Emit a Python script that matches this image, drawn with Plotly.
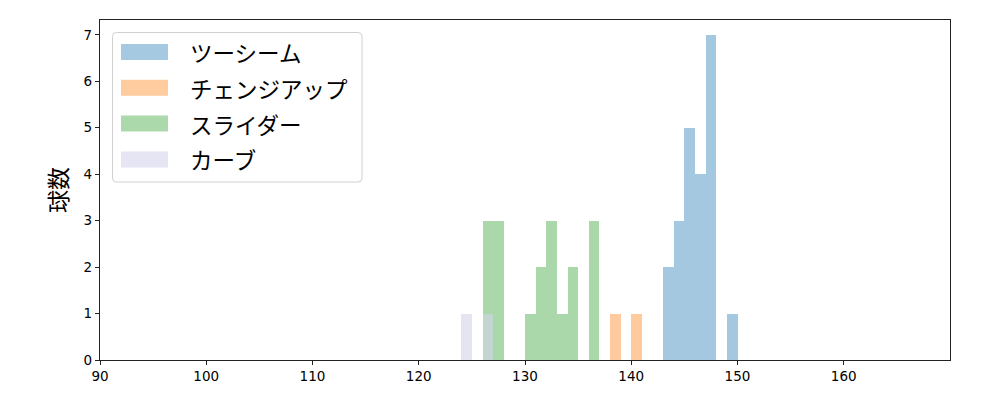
import plotly.graph_objects as go

# ヒストグラム (ビン幅1, 左端の値)
labels = ["ツーシーム", "チェンジアップ", "スライダー", "カーブ"]
colors = ["#1f77b4", "#ff7f0e", "#2ca02c", "rgb(212,212,235)"]
alphas = [0.4, 0.4, 0.4, 0.6]

twoseam_bins = [143, 144, 145, 146, 147, 149]
twoseam_counts = [2, 3, 5, 4, 7, 1]
change_bins = [138, 140]
change_counts = [1, 1]
slider_bins = [126, 127, 130, 131, 132, 133, 134, 136]
slider_counts = [3, 3, 1, 2, 3, 1, 2, 3]
curve_bins = [124, 126]
curve_counts = [1, 1]

x_ticks = [90, 100, 110, 120, 130, 140, 150, 160]
y_ticks = [0, 1, 2, 3, 4, 5, 6, 7]

series = [
    (twoseam_bins, twoseam_counts),
    (change_bins, change_counts),
    (slider_bins, slider_counts),
    (curve_bins, curve_counts),
]

# ページ余白(8px)ぶんを差し引いた図のサイズ
OFF = 8
W, H = 1000 - OFF, 400 - OFF
L, R, T, B = 100, 950, 20, 360   # 画面上のプロット領域
FONT = "Noto Sans CJK JP, DejaVu Sans, sans-serif"

fig = go.Figure()
for (bins, counts), name, c, a in zip(series, labels, colors, alphas):
    fig.add_trace(go.Bar(
        x=bins, y=counts, width=1, offset=0, name=name,
        marker=dict(color=c, line=dict(width=0)), opacity=a,
        showlegend=False,
    ))


def px(x):
    return (x - L) / (R - L)


def py(y):
    return (B - y) / (B - T)


# 凡例 (matplotlib風に手書き)
bx0, bx1, by0, by1, r = 112.5, 362, 32.5, 182, 4
path = (f"M {px(bx0 + r)},{py(by0)} L {px(bx1 - r)},{py(by0)} "
        f"Q {px(bx1)},{py(by0)} {px(bx1)},{py(by0 + r)} "
        f"L {px(bx1)},{py(by1 - r)} Q {px(bx1)},{py(by1)} {px(bx1 - r)},{py(by1)} "
        f"L {px(bx0 + r)},{py(by1)} Q {px(bx0)},{py(by1)} {px(bx0)},{py(by1 - r)} "
        f"L {px(bx0)},{py(by0 + r)} Q {px(bx0)},{py(by0)} {px(bx0 + r)},{py(by0)} Z")
fig.add_shape(type="path", path=path, xref="paper", yref="paper",
              fillcolor="rgba(255,255,255,0.8)", line=dict(color="#d0d0d0", width=1))
for i, (name, c, a) in enumerate(zip(labels, colors, alphas)):
    top = 44 + i * 35.8
    fig.add_shape(type="rect", xref="paper", yref="paper",
                  x0=px(121), x1=px(168), y0=py(top), y1=py(top + 16),
                  fillcolor=c, opacity=a, line=dict(width=0))
    fig.add_annotation(x=px(188), y=py(top + 8), xref="paper", yref="paper",
                       text=name, showarrow=False, xanchor="left", yanchor="middle",
                       font=dict(size=22.5, color="black", family=FONT))

fig.update_layout(
    width=W, height=H,
    margin=dict(l=L - OFF, r=1000 - R, t=T - OFF, b=400 - B),
    plot_bgcolor="white", paper_bgcolor="white",
    barmode="overlay", bargap=0,
    font=dict(family=FONT, color="black"),
)
fig.update_xaxes(
    range=[90, 170], tickvals=x_ticks, ticks="outside", ticklen=4,
    tickcolor="#222", showline=True, linecolor="#222", linewidth=1.2,
    mirror=True, showgrid=False, zeroline=False,
    tickfont=dict(size=13.5, family="DejaVu Sans"),
)
fig.update_yaxes(
    range=[0, 7.32], tickvals=y_ticks, ticks="outside", ticklen=4,
    tickcolor="#222", showline=True, linecolor="#222", linewidth=1.2,
    mirror=True, showgrid=False, zeroline=False,
    tickfont=dict(size=13.5, family="DejaVu Sans"),
    title=dict(text="球数", font=dict(size=23), standoff=9),
)

fig.write_html("out.html")
